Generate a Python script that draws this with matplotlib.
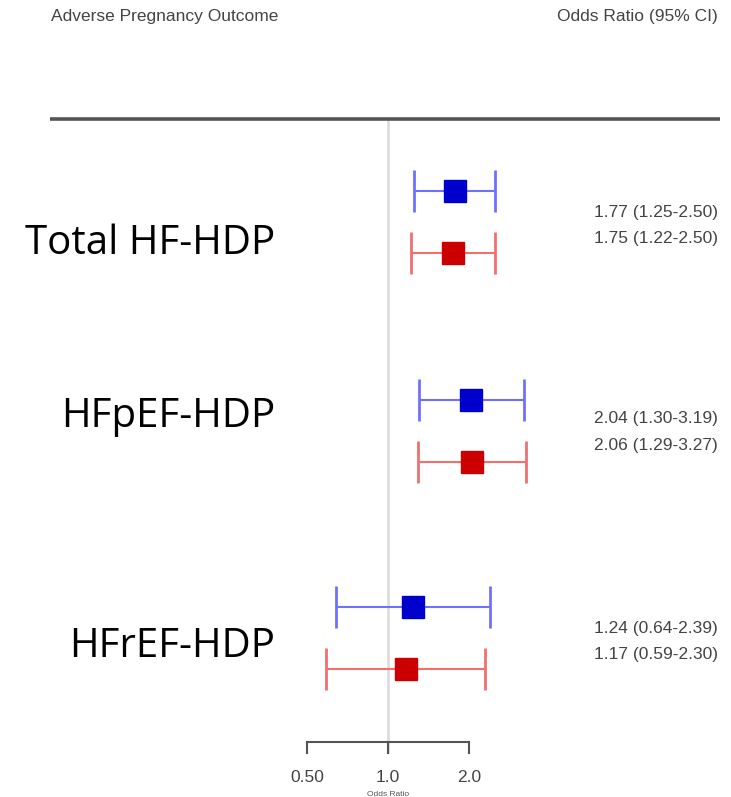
import matplotlib
matplotlib.use("Agg")
import matplotlib.pyplot as plt
import numpy as np

# ---- data ----
groups = ["Total HF-HDP", "HFpEF-HDP", "HFrEF-HDP"]
or_blue = [1.77, 2.04, 1.24]
lo_blue = [1.25, 1.30, 0.64]
hi_blue = [2.50, 3.19, 2.39]
or_red = [1.75, 2.06, 1.17]
lo_red = [1.22, 1.29, 0.59]
hi_red = [2.50, 3.27, 2.30]
tick_vals = [0.5, 1.0, 2.0]
tick_labels = ["0.50", "1.0", "2.0"]

W, H = 731, 797
fig = plt.figure(figsize=(W / 100, H / 100), dpi=100)
ax = fig.add_axes([0, 0, 1, 1])
ax.set_xscale("log", base=2)
px_per_oct = 81.0
x_one = 388.0
ax.set_xlim(2 ** ((0 - x_one) / px_per_oct), 2 ** ((W - x_one) / px_per_oct))
ax.set_ylim(H, 0)
ax.axis("off")

# layout (pixel rows)
y_blue = [191, 400, 607]
y_red = [253, 462, 669]
y_lab = [254, 427, 657]
y_txt_b = [212, 418, 628]
y_txt_r = [238, 445, 655]

def px2x(p):
    return 2 ** ((p - x_one) / px_per_oct)

# header line & reference line
ax.plot([px2x(50), px2x(720)], [119, 119], color="#555555", lw=2.6, solid_capstyle="butt", zorder=2)
ax.plot([1.0, 1.0], [119, 752], color="#dddddd", lw=2, zorder=1)

small = dict(family=["Liberation Sans", "DejaVu Sans"], fontsize=12.5, color="#444444")
ax.text(px2x(51), 16, "Adverse Pregnancy Outcome", ha="left", va="center", **small)
ax.text(px2x(718), 16, "Odds Ratio (95% CI)", ha="right", va="center", **small)

for i in range(3):
    ax.errorbar([or_blue[i]], [y_blue[i]],
                xerr=[[or_blue[i] - lo_blue[i]], [hi_blue[i] - or_blue[i]]],
                fmt="none", ecolor="#7070ff", elinewidth=1.5, capsize=15, capthick=2, zorder=3)
    ax.plot([or_blue[i]], [y_blue[i]], marker="s", ms=16, color="#0000cc", mec="#0000cc", zorder=4)
    ax.errorbar([or_red[i]], [y_red[i]],
                xerr=[[or_red[i] - lo_red[i]], [hi_red[i] - or_red[i]]],
                fmt="none", ecolor="#f07070", elinewidth=1.5, capsize=15, capthick=2, zorder=3)
    ax.plot([or_red[i]], [y_red[i]], marker="s", ms=16, color="#cc0000", mec="#cc0000", zorder=4)
    ax.text(px2x(718), y_txt_b[i], f"{or_blue[i]:.2f} ({lo_blue[i]:.2f}-{hi_blue[i]:.2f})",
            ha="right", va="center", **small)
    ax.text(px2x(718), y_txt_r[i], f"{or_red[i]:.2f} ({lo_red[i]:.2f}-{hi_red[i]:.2f})",
            ha="right", va="center", **small)
    ax.text(px2x(275), y_lab[i], groups[i], ha="right", va="baseline",
            family=["Open Sans", "DejaVu Sans"], fontsize=29, color="black")

# bottom axis
ax.plot([tick_vals[0], tick_vals[-1]], [742, 742], color="#555555", lw=1.5, zorder=2)
for v, lab in zip(tick_vals, tick_labels):
    ax.plot([v, v], [742, 753], color="#555555", lw=1.5, zorder=2)
    ax.text(v, 777, lab, ha="center", va="center", **small)
ax.text(1.0, 794, "Odds Ratio", ha="center", va="center",
        family=["Liberation Sans", "DejaVu Sans"], fontsize=6, color="#555555")

fig.savefig("out.png", dpi=100)
